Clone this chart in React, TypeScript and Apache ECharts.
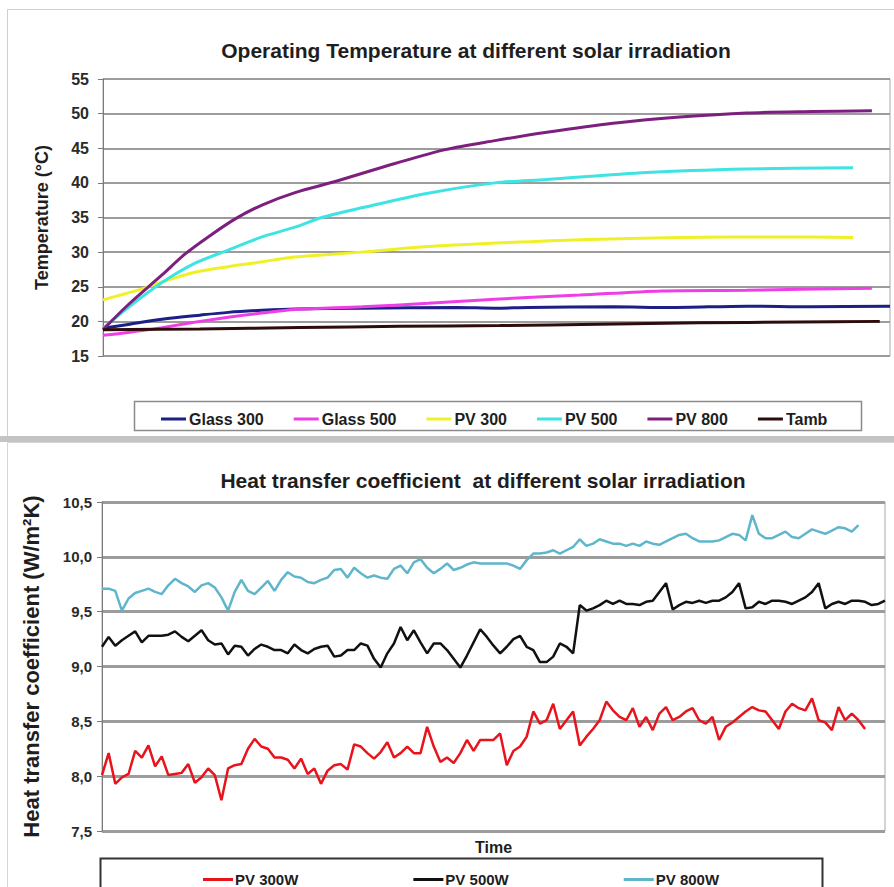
import React, { useEffect, useRef } from "react";
import * as echarts from "echarts";

// ---------- Top chart: operating temperature (time in % of run, °C) ----------
const topTitle = "Operating Temperature at different solar irradiation";
const topNames = ["Glass 300", "Glass 500", "PV 300", "PV 500", "PV 800", "Tamb"];
const topColors = ["#1b1f86", "#ee3fe6", "#f0f028", "#3ee3e3", "#7d1f7f", "#2e0c0c"];
const topYTicks = { min: 15, max: 55, interval: 5 };

const glass300: [number, number][] = [
  [0, 19.0], [3.4, 19.6], [7.5, 20.3], [12.3, 20.9], [15.9, 21.3], [20.2, 21.6], [24.4, 21.8],
  [32.9, 21.9], [45, 22.0], [49.8, 21.9], [54, 22.0], [64.8, 22.1], [72, 22.0], [81.8, 22.2], [90, 22.1], [100, 22.2],
];
const glass500: [number, number][] = [
  [0, 18.0], [3.2, 18.4], [7.5, 19.1], [12.3, 20.0], [15.9, 20.6], [20.2, 21.2], [24.4, 21.7],
  [32.9, 22.1], [41.3, 22.6], [49.8, 23.2], [60.6, 23.8], [71, 24.4], [81.8, 24.5], [97.7, 24.8],
];
const pv300: [number, number][] = [
  [0, 23.1], [5.3, 24.8], [7.5, 25.7], [11.7, 27.1], [15.9, 27.9], [20.2, 28.6], [24.4, 29.3],
  [32.9, 30.0], [41.3, 30.8], [49.8, 31.3], [60.6, 31.8], [73.3, 32.1], [86.0, 32.2], [95.3, 32.1],
];
const pv500: [number, number][] = [
  [0, 19.0], [3.2, 22.0], [7.5, 25.6], [11.7, 28.4], [15.9, 30.3], [20.2, 32.2], [24.4, 33.6],
  [27.8, 35.0], [32.9, 36.4], [41.3, 38.5], [49.8, 40.0], [56.4, 40.5], [69.1, 41.5], [81.8, 42.0], [95.3, 42.2],
];
const pv800: [number, number][] = [
  [0, 18.8], [3.2, 22.4], [7.5, 26.7], [10.4, 29.7], [13.5, 32.3], [16.8, 34.8], [20.2, 36.8],
  [24.4, 38.6], [29.5, 40.2], [37.1, 42.8], [43.5, 44.8], [49.8, 46.1], [56.4, 47.3], [64.8, 48.6],
  [73.3, 49.5], [81.8, 50.1], [90.2, 50.3], [97.7, 50.4],
];
const tamb: [number, number][] = [
  [0, 18.8], [12.3, 18.9], [25, 19.1], [37.7, 19.3], [50.4, 19.4], [63, 19.6], [75.7, 19.8], [88.4, 19.9], [98.7, 20.0],
];
const topData = [glass300, glass500, pv300, pv500, pv800, tamb];

// ---------- Bottom chart: heat transfer coefficient ----------
const botTitle = "Heat transfer coefficient  at different solar irradiation";
const botNames = ["PV 300W", "PV 500W", "PV 800W"];
const botColors = ["#e8141c", "#111111", "#5fb6cc"];
const botYTicks = { min: 7.5, max: 10.5, interval: 0.5 };
const timeSteps = Array.from({ length: 119 }, (_, i) => String(i));

const pv300W = [
  8.01, 8.21, 7.93, 7.99, 8.02, 8.23, 8.17, 8.28, 8.09, 8.18,
  8.01, 8.02, 8.03, 8.11, 7.94, 7.99, 8.07, 8.01, 7.78, 8.07,
  8.10, 8.11, 8.25, 8.34, 8.27, 8.25, 8.17, 8.17, 8.15, 8.07,
  8.16, 8.02, 8.07, 7.93, 8.05, 8.10, 8.11, 8.06, 8.29, 8.27,
  8.21, 8.16, 8.22, 8.31, 8.17, 8.21, 8.27, 8.21, 8.21, 8.45,
  8.27, 8.13, 8.17, 8.12, 8.21, 8.33, 8.23, 8.33, 8.33, 8.33,
  8.39, 8.10, 8.23, 8.27, 8.36, 8.59, 8.48, 8.51, 8.66, 8.43,
  8.51, 8.59, 8.28, 8.36, 8.43, 8.51, 8.68, 8.60, 8.54,
  8.51, 8.62, 8.45, 8.54, 8.42, 8.57, 8.63, 8.51, 8.54, 8.59,
  8.62, 8.51, 8.48, 8.54, 8.33, 8.45, 8.49, 8.54, 8.59, 8.63,
  8.60, 8.59, 8.51, 8.43, 8.59, 8.66, 8.62, 8.60, 8.71, 8.51,
  8.49, 8.42, 8.63, 8.51, 8.57, 8.51, 8.43,
];
const pv500W = [
  9.18, 9.27, 9.19, 9.24, 9.28, 9.32, 9.22, 9.28, 9.28, 9.28,
  9.29, 9.32, 9.27, 9.23, 9.28, 9.33, 9.24, 9.20, 9.21, 9.11,
  9.19, 9.18, 9.10, 9.16, 9.20, 9.18, 9.15, 9.15, 9.12, 9.20,
  9.15, 9.12, 9.16, 9.18, 9.19, 9.09, 9.10, 9.15, 9.15, 9.21,
  9.19, 9.07, 8.99, 9.12, 9.21, 9.36, 9.24, 9.33, 9.22, 9.12,
  9.21, 9.21, 9.15, 9.07, 8.99, 9.10, 9.22, 9.34, 9.27, 9.19,
  9.12, 9.18, 9.25, 9.28, 9.18, 9.15, 9.04, 9.04, 9.09, 9.21,
  9.18, 9.12, 9.56, 9.51, 9.53, 9.56, 9.60, 9.57, 9.60,
  9.57, 9.57, 9.56, 9.59, 9.60, 9.68, 9.76, 9.52, 9.56, 9.59,
  9.58, 9.60, 9.58, 9.60, 9.60, 9.63, 9.68, 9.76, 9.53, 9.54,
  9.59, 9.57, 9.60, 9.60, 9.59, 9.57, 9.60, 9.63, 9.68, 9.76,
  9.53, 9.57, 9.59, 9.57, 9.60, 9.60, 9.59, 9.56, 9.57, 9.60,
];
const pv800W = [
  9.71, 9.71, 9.69, 9.51, 9.62, 9.67, 9.69, 9.71, 9.68, 9.66,
  9.74, 9.80, 9.76, 9.73, 9.68, 9.74, 9.76, 9.72, 9.63, 9.51,
  9.68, 9.79, 9.69, 9.66, 9.72, 9.78, 9.69, 9.79, 9.86, 9.82,
  9.81, 9.77, 9.76, 9.79, 9.81, 9.88, 9.89, 9.81, 9.90, 9.85,
  9.81, 9.83, 9.81, 9.80, 9.89, 9.92, 9.85, 9.95, 9.98, 9.90,
  9.85, 9.89, 9.94, 9.88, 9.90, 9.93, 9.95, 9.94, 9.94, 9.94,
  9.94, 9.94, 9.92, 9.89, 9.97, 10.03, 10.03, 10.04, 10.06, 10.03,
  10.06, 10.09, 10.16, 10.10, 10.12, 10.16, 10.14, 10.12, 10.12,
  10.10, 10.12, 10.10, 10.14, 10.12, 10.11, 10.14, 10.17, 10.20, 10.21,
  10.17, 10.14, 10.14, 10.14, 10.15, 10.18, 10.21, 10.20, 10.15, 10.38,
  10.21, 10.17, 10.17, 10.20, 10.23, 10.18, 10.17, 10.21, 10.25, 10.23,
  10.21, 10.24, 10.27, 10.26, 10.23, 10.29,
];
const botData = [pv300W, pv500W, pv800W];

const FONT = "'Liberation Sans', Arial, sans-serif";
const TXT = "#1e1e1e";
const GRID_LINE = "#9c9c9c";

export default function App() {
  const ref = useRef<HTMLDivElement>(null);

  useEffect(() => {
    if (!ref.current) return;
    const chart = echarts.init(ref.current, undefined, { renderer: "svg" });

    const option: any = {
      animation: false,
      backgroundColor: "#ffffff",
      textStyle: { fontFamily: FONT },
      title: [
        {
          text: topTitle, left: 471, top: 35, textAlign: "center",
          textStyle: { fontFamily: FONT, fontSize: 21, fontWeight: "bold", color: TXT },
        },
        {
          text: botTitle, left: 478, top: 465, textAlign: "center",
          textStyle: { fontFamily: FONT, fontSize: 21, fontWeight: "bold", color: TXT },
        },
      ],
      graphic: [
        { type: "rect", shape: { x: 7.5, y: 9.5, width: 890, height: 427 }, style: { fill: "none", stroke: "#cfcfcf", lineWidth: 1 }, z: -1 },
        { type: "rect", shape: { x: 0, y: 436, width: 894, height: 6 }, style: { fill: "#c4c4c4" }, z: -1 },
        { type: "rect", shape: { x: 7.5, y: 442.5, width: 890, height: 450 }, style: { fill: "none", stroke: "#d6d6d6", lineWidth: 1 }, z: -1 },
        { type: "rect", shape: { x: 134.5, y: 401.5, width: 727, height: 29 }, style: { fill: "#fff", stroke: "#8a8a8a", lineWidth: 1.5 }, z: -1 },
        { type: "rect", shape: { x: 100.5, y: 858.5, width: 722, height: 40 }, style: { fill: "#fff", stroke: "#333", lineWidth: 2 }, z: -1 },
      ],
      legend: [
        {
          data: topNames, left: 156, top: 406, itemGap: 30, itemWidth: 25, itemHeight: 3, icon: "rect",
          textStyle: { fontFamily: FONT, fontSize: 16, fontWeight: "bold", color: TXT, padding: [0, 0, 0, -2] },
        },
        {
          data: botNames, left: 198, top: 867, itemGap: 115, itemWidth: 30, itemHeight: 3, icon: "rect",
          textStyle: { fontFamily: FONT, fontSize: 15, fontWeight: "bold", color: TXT, padding: [0, 0, 0, -3] },
        },
      ],
      grid: [
        { left: 103, top: 79, width: 787, height: 277, show: true, borderColor: "#a8a8a8", borderWidth: 1 },
        { left: 102, top: 502, width: 783, height: 329, show: true, borderColor: "#a8a8a8", borderWidth: 1 },
      ],
      xAxis: [
        { gridIndex: 0, type: "value", min: 0, max: 100, show: false },
        {
          gridIndex: 1, type: "category", data: timeSteps, boundaryGap: false,
          axisLabel: { show: false }, axisTick: { show: false }, axisLine: { show: false },
          splitLine: { show: false },
          name: "Time", nameLocation: "middle", nameGap: 8,
          nameTextStyle: { fontFamily: FONT, fontSize: 16, fontWeight: "bold", color: TXT },
        },
      ],
      yAxis: [
        {
          gridIndex: 0, type: "value", min: topYTicks.min, max: topYTicks.max, interval: topYTicks.interval,
          axisLine: { show: true, lineStyle: { color: "#7a7a7a", width: 1 } },
          axisTick: { show: true, length: 5, lineStyle: { color: "#7a7a7a" } },
          axisLabel: { fontFamily: FONT, fontSize: 16, fontWeight: "bold", color: "#2a2a2a", margin: 14 },
          splitLine: { show: true, lineStyle: { color: GRID_LINE, width: 2 } },
          name: "Temperature (°C)", nameLocation: "middle", nameGap: 52, nameRotate: 90,
          nameTextStyle: { fontFamily: FONT, fontSize: 18, fontWeight: "bold", color: TXT },
        },
        {
          gridIndex: 1, type: "value", min: botYTicks.min, max: botYTicks.max, interval: botYTicks.interval,
          axisLine: { show: true, lineStyle: { color: "#7a7a7a", width: 1 } },
          axisTick: { show: true, length: 5, lineStyle: { color: "#7a7a7a" } },
          axisLabel: {
            fontFamily: FONT, fontSize: 15, fontWeight: "bold", color: "#2a2a2a", margin: 10,
            formatter: (v: number) => v.toFixed(1).replace(".", ","),
          },
          splitLine: { show: true, lineStyle: { color: GRID_LINE, width: 3 } },
          name: "Heat transfer coefficient (W/m²K)", nameLocation: "middle", nameGap: 60, nameRotate: 90,
          nameTextStyle: { fontFamily: FONT, fontSize: 22, fontWeight: "bold", color: TXT },
        },
      ],
      series: [
        ...topNames.map((name, i) => ({
          name, type: "line", xAxisIndex: 0, yAxisIndex: 0, data: topData[i],
          symbol: "none", smooth: 0.3, color: topColors[i],
          lineStyle: { width: 3, color: topColors[i] },
        })),
        ...botNames.map((name, i) => ({
          name, type: "line", xAxisIndex: 1, yAxisIndex: 1, data: botData[i],
          symbol: "none", color: botColors[i],
          lineStyle: { width: 2.5, color: botColors[i] },
        })),
      ],
    };

    chart.setOption(option);
    return () => chart.dispose();
  }, []);

  return (
    <div
      ref={ref}
      style={{ position: "absolute", left: 0, top: 0, width: 894, height: 887, background: "#fff" }}
    />
  );
}
